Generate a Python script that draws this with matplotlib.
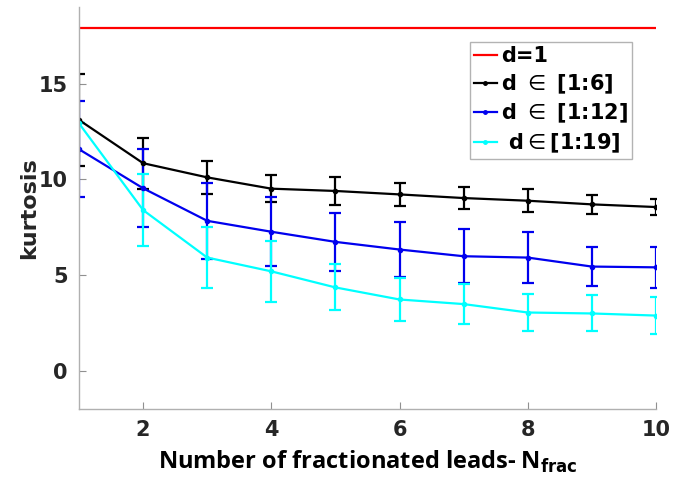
import matplotlib
matplotlib.use("Agg")
import matplotlib.pyplot as plt
from matplotlib.lines import Line2D

# Number of fractionated leads
n_frac = [1, 2, 3, 4, 5, 6, 7, 8, 9, 10]

# Kurtosis reference for a single lead
kurt_d1 = 17.9

# Mean kurtosis and standard deviation per lead-distance range
kurt_d6 = [13.1, 10.84, 10.1, 9.51, 9.39, 9.21, 9.02, 8.88, 8.69, 8.55]
err_d6 = [2.4, 1.34, 0.88, 0.72, 0.75, 0.62, 0.58, 0.6, 0.48, 0.43]

kurt_d12 = [11.57, 9.53, 7.83, 7.26, 6.73, 6.33, 5.98, 5.91, 5.44, 5.4]
err_d12 = [2.5, 2.03, 1.98, 1.81, 1.5, 1.42, 1.4, 1.31, 1.03, 1.08]

kurt_d19 = [12.92, 8.39, 5.91, 5.19, 4.35, 3.72, 3.48, 3.04, 2.99, 2.88]
err_d19 = [0.0, 1.88, 1.6, 1.6, 1.2, 1.14, 1.03, 0.99, 0.94, 0.95]

labels = ["d=1", r"d $\in$ [1:6]", r"d $\in$ [1:12]", r" d$\in$[1:19]"]
xticks = [2, 4, 6, 8, 10]
yticks = [0, 5, 10, 15]

plt.rcParams["mathtext.fontset"] = "dejavusans"

fig = plt.figure(figsize=(6.73, 4.84), dpi=100)
ax = fig.add_axes([0.1174, 0.155, 0.8573, 0.8305])

ax.axhline(kurt_d1, color="#ff0000", lw=1.6)
handles = [Line2D([], [], color="#ff0000", lw=1.6)]

series = [
    (kurt_d6, err_d6, "black"),
    (kurt_d12, err_d12, "#0000ee"),
    (kurt_d19, err_d19, "#00ffff"),
]
for vals, errs, col in series:
    ax.errorbar(n_frac, vals, yerr=errs, color=col, lw=1.6, marker=".",
                markersize=6, capsize=4, capthick=1.6, elinewidth=1.6,
                clip_on=True)
    handles.append(Line2D([], [], color=col, lw=1.6, marker=".",
                          markersize=5))

ax.set_xlim(1, 10)
ax.set_ylim(-2, 19)
ax.set_xticks(xticks)
ax.set_yticks(yticks)

for side in ("top", "right"):
    ax.spines[side].set_visible(False)
for side in ("left", "bottom"):
    ax.spines[side].set_color("#b0b0b0")
    ax.spines[side].set_linewidth(1.0)

ax.tick_params(direction="in", length=5, color="#909090", width=0.8,
               labelsize=15, labelcolor="#262626", pad=8)
for lbl in ax.get_xticklabels() + ax.get_yticklabels():
    lbl.set_fontweight("bold")

ax.set_ylabel("kurtosis", fontsize=16, fontweight="bold", color="#262626",
              labelpad=0)
ax.set_xlabel(r"Number of fractionated leads- N$_{\mathbf{frac}}$",
              fontsize=17, fontweight="bold", family="Open Sans",
              color="black", labelpad=6)

leg = ax.legend(handles, labels, loc="upper right",
                bbox_to_anchor=(632 / 673, 1 - 42 / 484),
                bbox_transform=fig.transFigure,
                prop={"weight": "bold", "size": 15}, frameon=True,
                fancybox=False, edgecolor="#a0a0a0", handlelength=1.1,
                handletextpad=0.2, labelspacing=0.3, borderpad=0.2,
                borderaxespad=0.0)
leg.get_frame().set_linewidth(1.0)

fig.savefig("out.png", dpi=100)
